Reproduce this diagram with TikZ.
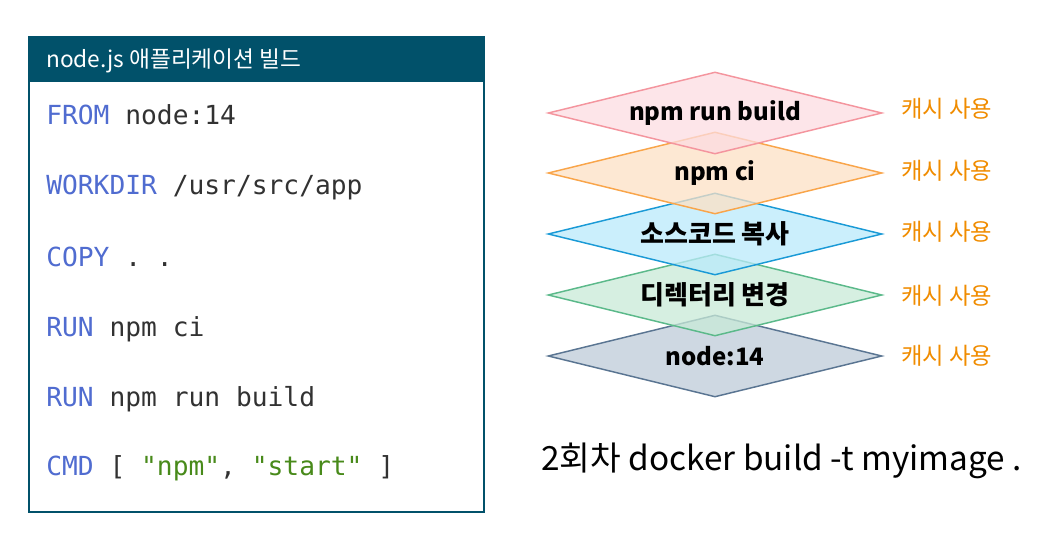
\documentclass[tikz,border=0pt]{standalone}
\usepackage{fontspec}
\usepackage{xcolor}
\usepackage{tikz}
\usetikzlibrary{positioning,shapes.geometric}
\setmainfont{Noto Sans CJK KR}
\setmonofont{DejaVu Sans Mono}
\definecolor{HeadTeal}{RGB}{1,81,106}
\definecolor{KeyBlue}{RGB}{80,108,208}
\definecolor{StrGreen}{RGB}{72,138,26}
\definecolor{CodeGray}{RGB}{50,50,50}
\definecolor{CacheOrange}{RGB}{240,140,0}
\definecolor{PinkLine}{RGB}{244,149,158}
\definecolor{PinkFill}{RGB}{252,220,226}
\definecolor{OrangeLine}{RGB}{249,165,74}
\definecolor{OrangeFill}{RGB}{253,224,196}
\definecolor{BlueLine}{RGB}{26,154,214}
\definecolor{BlueFill}{RGB}{186,234,251}
\definecolor{GreenLine}{RGB}{91,185,138}
\definecolor{GreenFill}{RGB}{200,234,215}
\definecolor{SlateLine}{RGB}{90,117,146}
\definecolor{SlateFill}{RGB}{190,203,216}

\begin{document}
\begin{tikzpicture}[x=0.75pt,y=-0.75pt]
	\tikzset{
		box/.style={draw=HeadTeal, line width=1.6pt, fill=white, minimum width=341.25pt,
			minimum height=356.25pt, inner sep=0pt},
		head/.style={fill=HeadTeal, minimum width=341.25pt, minimum height=34.5pt, inner sep=0pt},
		code/.style={anchor=base west, inner sep=0pt, font=\ttfamily\fontsize{19.7}{22}\selectfont, text=CodeGray},
		layer/.style={diamond, aspect=4.07, minimum width=250.5pt, minimum height=61.5pt,
			inner sep=0pt, line width=1.1pt, fill opacity=0.75, text opacity=1,
			font=\bfseries\fontsize{18}{20}\selectfont},
		kolayer/.style={layer, font=\bfseries\fontsize{19.5}{21}\selectfont},
		cache/.style={anchor=west, inner sep=0pt, text=CacheOrange, font=\fontsize{17.5}{19}\selectfont}
	}
	\useasboundingbox (0,0) rectangle (1062,552);
	
	% Dockerfile
	\node[box] (dfile) at (256.5,274.5) {};
	\node[head, anchor=north] (dhead) at (dfile.north) {};
	\node[anchor=west, inner sep=0pt, text=white, font=\fontsize{17}{19}\selectfont] (dtitle) at (46,61) {node.js 애플리케이션 빌드};
	\node[code] (l1) at (46,125) {\textcolor{KeyBlue}{FROM} node:14};
	\node[code] (l2) at (46,195) {\textcolor{KeyBlue}{WORKDIR} /usr/src/app};
	\node[code] (l3) at (46,266) {\textcolor{KeyBlue}{COPY} . .};
	\node[code] (l4) at (46,336) {\textcolor{KeyBlue}{RUN} npm ci};
	\node[code] (l5) at (46,406) {\textcolor{KeyBlue}{RUN} npm run build};
	\node[code] (l6) at (46,475) {\textcolor{KeyBlue}{CMD} [ \textcolor{StrGreen}{"npm"}, \textcolor{StrGreen}{"start"} ]};
	
	% image layers
	\node[layer, draw=SlateLine, fill=SlateFill] (s5) at (715,356) {node:14};
	\node[kolayer, draw=GreenLine, fill=GreenFill] (s4) at (715,295) {디렉터리 변경};
	\node[kolayer, draw=BlueLine, fill=BlueFill] (s3) at (715,234) {소스코드 복사};
	\node[layer, draw=OrangeLine, fill=OrangeFill] (s2) at (715,173) {npm ci};
	\node[layer, draw=PinkLine, fill=PinkFill] (s1) at (715,113) {npm run build};
	
	\node[cache] (c1) at (901,109) {캐시 사용};
	\node[cache] (c2) at (901,171) {캐시 사용};
	\node[cache] (c3) at (901,232) {캐시 사용};
	\node[cache] (c4) at (901,296) {캐시 사용};
	\node[cache] (c5) at (901,356) {캐시 사용};
	
	\node[anchor=west, inner sep=0pt, font=\fontsize{25}{28}\selectfont] (cmd) at (541,461) {2회차 docker build -t myimage .};
\end{tikzpicture}
\end{document}
